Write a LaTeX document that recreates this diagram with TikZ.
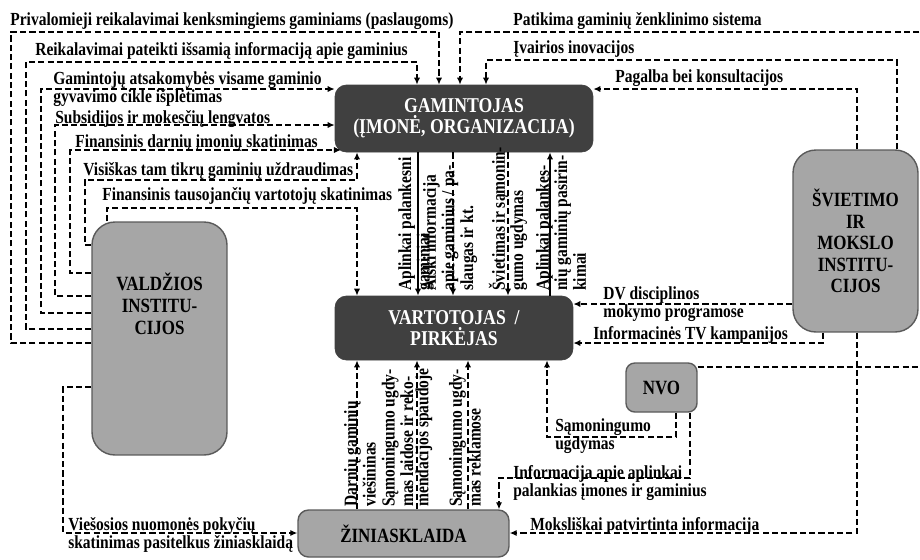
\documentclass[tikz,border=0pt]{standalone}
\usepackage{fontspec}
\setmainfont[FakeStretch=0.84]{Liberation Serif}
\usetikzlibrary{arrows.meta}
\definecolor{boxDark}{HTML}{404040}
\definecolor{boxLight}{HTML}{A6A6A6}
\definecolor{boxEdge}{HTML}{5A5A5A}

\begin{document}
\begin{tikzpicture}
		[x=0.02cm, y=-0.02cm,
			flowDashed/.style={dash pattern=on 3.5pt off 1.8pt,line width=1pt,-{Latex[length=4pt,width=3.6pt]}},
			flowSolid/.style={line width=1pt,-{Latex[length=4pt,width=3.6pt]}},
			darkBox/.style={rectangle,rounded corners=6.5pt,fill=boxDark,draw=boxDark,text=white,align=center,
				font=\bfseries\fontsize{12}{12}\selectfont},
			lightBox/.style={rectangle,fill=boxLight,draw=boxEdge,line width=0.8pt,align=center,
				font=\bfseries\fontsize{11.5}{12.3}\selectfont},
			flowLabel/.style={inner sep=0pt,anchor=base west,align=left,font=\bfseries\fontsize{10.5}{10}\selectfont},
			upLabel/.style={inner sep=0pt,rotate=90,anchor=west,align=left,font=\bfseries\fontsize{10.5}{8.6}\selectfont}]
		\useasboundingbox (0,0) rectangle (920,559);
		\clip (0,0) rectangle (920,559);
		% actors
		\node (gam) at (464,118.5) [darkBox,minimum width=5.16cm,minimum height=1.34cm] {GAMINTOJAS\\(ĮMONĖ, ORGANIZACIJA)};
		\node (vart) at (454,328) [darkBox,minimum width=4.76cm,minimum height=1.28cm] {VARTOTOJAS~~/\\PIRKĖJAS};
		\node (valdz) at (159.5,338.5) [lightBox,rounded corners=13pt,minimum width=2.7cm,minimum height=4.66cm,
			label={[yshift=0.7cm,align=center,font=\bfseries\fontsize{11.5}{12.5}\selectfont]center:VALDŽIOS\\INSTITU-\\CIJOS}] {};
		\node (svie) at (855.5,241) [lightBox,rounded corners=13pt,minimum width=2.5cm,minimum height=3.64cm] {ŠVIETIMO\\IR\\MOKSLO\\INSTITU-\\CIJOS};
		\node (nvo) at (661.5,387.5) [lightBox,rounded corners=5pt,minimum width=1.42cm,minimum height=0.98cm] {NVO};
		\node (zin) at (403.5,533.5) [lightBox,rounded corners=6pt,minimum width=4.22cm,minimum height=0.94cm] {ŽINIASKLAIDA};
		\coordinate (gamCorner) at (341,150);

		% from the government
		\draw[flowDashed] (valdz.west |- 0,343) -| (11,32) -| (439,0 |- gam.north);
		\draw[flowDashed] (valdz.west |- 0,329) -| (26,62) -| (417,0 |- gam.north);
		\draw[flowDashed] (valdz.west |- 0,313) -| (41,89) -- (gam.west |- 0,89);
		\draw[flowDashed] (valdz.west |- 0,296) -| (55,125) -- (gam.west |- 0,125);
		\draw[flowDashed] (valdz.west |- 0,273) -| (70,150) -- (gamCorner);
		\draw[flowDashed] (valdz.west |- 0,245) -| (85,180) -| (357,0 |- gam.south);
		\draw[flowDashed] (107,0 |- valdz.north) |- (357,208) -- (357,0 |- vart.north);
		\draw[flowDashed] (valdz.west |- 0,387) -| (63,533) -- (zin.west |- 0,533);
		% (multi-line labels sit on the baseline of their last line)
		\node[flowLabel] at (10,25) {Privalomieji reikalavimai kenksmingiems gaminiams (paslaugoms)};
		\node[flowLabel] at (35,55) {Reikalavimai pateikti išsamią informaciją apie gaminius};
		\node[flowLabel] at (53,102) {Gamintojų atsakomybės visame gaminio\\gyvavimo cikle išplėtimas};
		\node[flowLabel] at (55,123) {Subsidijos ir mokesčių lengvatos};
		\node[flowLabel] at (75,147) {Finansinis darnių įmonių skatinimas};
		\node[flowLabel] at (83,175) {Visiškas tam tikrų gaminių uždraudimas};
		\node[flowLabel] at (102,200) {Finansinis tausojančių vartotojų skatinimas};
		\node[flowLabel] at (68,548) {Viešosios nuomonės pokyčių\\skatinimas pasitelkus žiniasklaidą};

		% from education, science and NGOs
		\draw[flowDashed] (nvo.east |- 0,367) -| (925,32) -| (460,0 |- gam.north);
		\draw[flowDashed] (897,0 |- svie.north) |- (486,60) -- (486,0 |- gam.north);
		\draw[flowDashed] (857,0 |- svie.north) |- (gam.east |- 0,89);
		\draw[flowDashed] (svie.west |- 0,304) -- (vart.east |- 0,304);
		\draw[flowDashed] (823,0 |- svie.south) |- (vart.east |- 0,343);
		\draw[flowDashed] (857,0 |- svie.south) |- (zin.east |- 0,533);
		\draw[flowDashed] (676,0 |- nvo.south) |- (547,437) -- (547,0 |- vart.south);
		\draw[flowDashed] (690,0 |- nvo.south) |- (499,478) -- (499,0 |- zin.north);
		\node[flowLabel] at (513,25) {Patikima gaminių ženklinimo sistema};
		\node[flowLabel] at (513,53) {Įvairios inovacijos};
		\node[flowLabel] at (615,82) {Pagalba bei konsultacijos};
		\node[flowLabel] at (603,317) {DV disciplinos\\mokymo programose};
		\node[flowLabel] at (593,339) {Informacinės TV kampanijos};
		\node[flowLabel] at (555,449) {Sąmoningumo\\ugdymas};
		\node[flowLabel] at (513,496) {Informacija apie aplinkai\\palankias įmones ir gaminius};
		\node[flowLabel] at (530,530) {Moksliškai patvirtinta informacija};

		% producer - consumer - media
		\draw[flowSolid] (418,0 |- gam.south) -- (418,0 |- vart.north);
		\draw[flowDashed] (453,0 |- gam.south) -- (453,0 |- vart.north);
		\draw[flowDashed] (508,0 |- gam.south) -- (508,0 |- vart.north);
		\draw[flowSolid] (550,0 |- vart.north) -- (550,0 |- gam.south);
		\foreach \x in {357, 417, 468}
			{
				\draw[flowDashed] (\x,0 |- zin.north) -- (\x,0 |- vart.south);
			}
		\node[upLabel] at (416,291) {Aplinkai palankesni\\gaminiai};
		\node[upLabel] at (450,291) {Aiški informacija\\apie gaminius / pa-\\slaugas ir kt.};
		\node[upLabel] at (508,291) {Švietimas ir sąmonin-\\gumo ugdymas};
		\node[upLabel] at (561,291) {Aplinkai palankes-\\nių gaminių pasirin-\\kimai};
		\node[upLabel] at (360,507) {Darnių gaminių\\viešininas};
		\node[upLabel] at (407,507) {Sąmoningumo ugdy-\\mas laidose ir reko-\\mendacijos spaudoje};
		\node[upLabel] at (465,507) {Sąmoningumo ugdy-\\mas reklamose};
	\end{tikzpicture}
\end{document}
